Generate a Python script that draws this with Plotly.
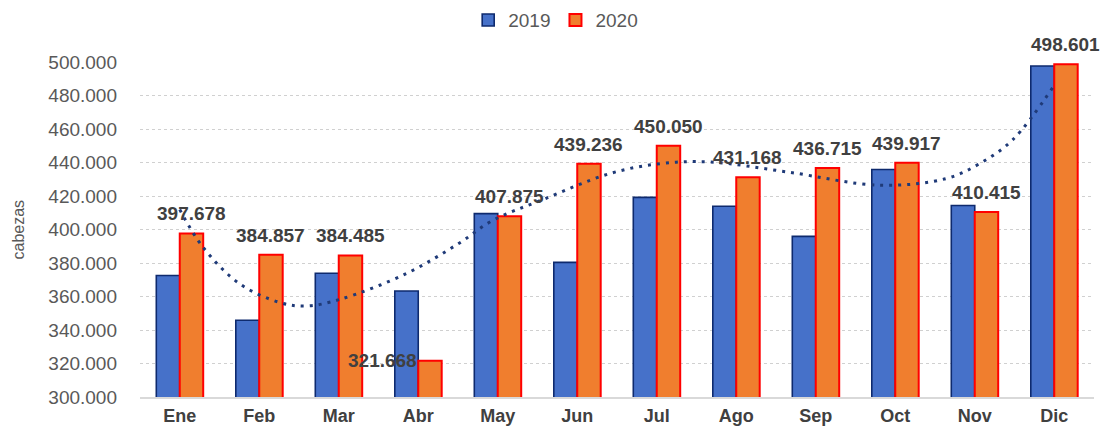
import plotly.graph_objects as go

months = ["Ene", "Feb", "Mar", "Abr", "May", "Jun", "Jul", "Ago", "Sep", "Oct", "Nov", "Dic"]
values_2019 = [372500, 345800, 373900, 363300, 409500, 380400, 419200, 413900, 395900, 435800, 414300, 497600]
values_2020 = [397678, 384857, 384485, 321668, 407875, 439236, 450050, 431168, 436715, 439917, 410415, 498601]
# dotted trend line (month index, value)
trend_x = [0, 0.29, 0.75, 1.26, 1.59, 2.01, 2.85, 3.52, 3.94, 4.57, 5.41, 6.04, 6.67, 7.65, 8.81, 9.64, 10.06, 10.48, 11]
trend_y = [411900, 389600, 367700, 356400, 354300, 358200, 373700, 392000, 405500, 417900, 433400,
           439300, 440300, 434300, 426400, 430400, 439300, 453700, 486100]

idx = list(range(len(months)))
FONT = "Liberation Sans, Arial, sans-serif"

fig = go.Figure()
fig.add_trace(go.Bar(
    x=idx, y=values_2019, name="2019",
    marker=dict(color="#4671C9", line=dict(color="#0E2A6E", width=1.6)),
    hoverinfo="skip",
))
fig.add_trace(go.Bar(
    x=idx, y=values_2020, name="2020",
    marker=dict(color="#F07E2E", line=dict(color="#FF0000", width=2)),
    hoverinfo="skip",
))
fig.add_trace(go.Scatter(
    x=trend_x, y=trend_y, mode="lines", showlegend=False, hoverinfo="skip",
    line=dict(color="#1F3A78", width=3, dash="3px,6px", shape="spline", smoothing=1.0),
))

bargap = 0.41
half = (1 - bargap) / 4  # centre offset of each bar within its group


def fmt(v):
    return f"{v:,}".replace(",", ".")


annotations = []
for i, v in enumerate(values_2020):
    if months[i] == "Abr":
        annotations.append(dict(
            x=i, y=v, xref="x", yref="y", text=f"<b>{fmt(v)}</b>", showarrow=False,
            xanchor="right", yanchor="middle", xshift=1,
            font=dict(family=FONT, size=19, color="#404040"),
        ))
    else:
        annotations.append(dict(
            x=i + half, y=v, xref="x", yref="y", text=f"<b>{fmt(v)}</b>", showarrow=False,
            xanchor="center", yanchor="bottom", yshift=7,
            font=dict(family=FONT, size=19, color="#404040"),
        ))

annotations.append(dict(
    x=(18 - 140) / 954, y=0.5, xref="paper", yref="paper", text="cabezas", showarrow=False,
    textangle=-90, xanchor="center", yanchor="middle",
    font=dict(family=FONT, size=16, color="#595959"),
))

fig.update_layout(
    width=1102, height=420, autosize=False,
    margin=dict(l=132, r=16, t=54, b=31),
    paper_bgcolor="white", plot_bgcolor="white",
    separators=",.",
    barmode="group", bargap=bargap, bargroupgap=0,
    font=dict(family=FONT, color="#595959"),
    legend=dict(
        orientation="h", xref="container", yref="container",
        x=0.497, xanchor="center", y=0.971, yanchor="middle",
        font=dict(family=FONT, size=19, color="#595959"),
        itemwidth=30, traceorder="normal",
    ),
    annotations=annotations,
    xaxis=dict(
        range=[-0.5, 11.5], tickmode="array", tickvals=idx, ticktext=[f"<b>{m}</b>" for m in months],
        tickfont=dict(family=FONT, size=18, color="#404040"),
        showgrid=False, zeroline=False, showline=True, linecolor="#D9D9D9", linewidth=2,
        ticks="", ticklabelstandoff=1, automargin=False, fixedrange=True,
    ),
    yaxis=dict(
        range=[300000, 500000], dtick=20000, tick0=300000, tickformat=",d",
        tickfont=dict(family=FONT, size=19, color="#595959"),
        showgrid=True, gridcolor="#D0D0D0", griddash="dot", gridwidth=1,
        zeroline=False, showline=False, ticks="", ticklabelstandoff=22,
        automargin=False, fixedrange=True,
    ),
)

fig.write_html("out.html")
